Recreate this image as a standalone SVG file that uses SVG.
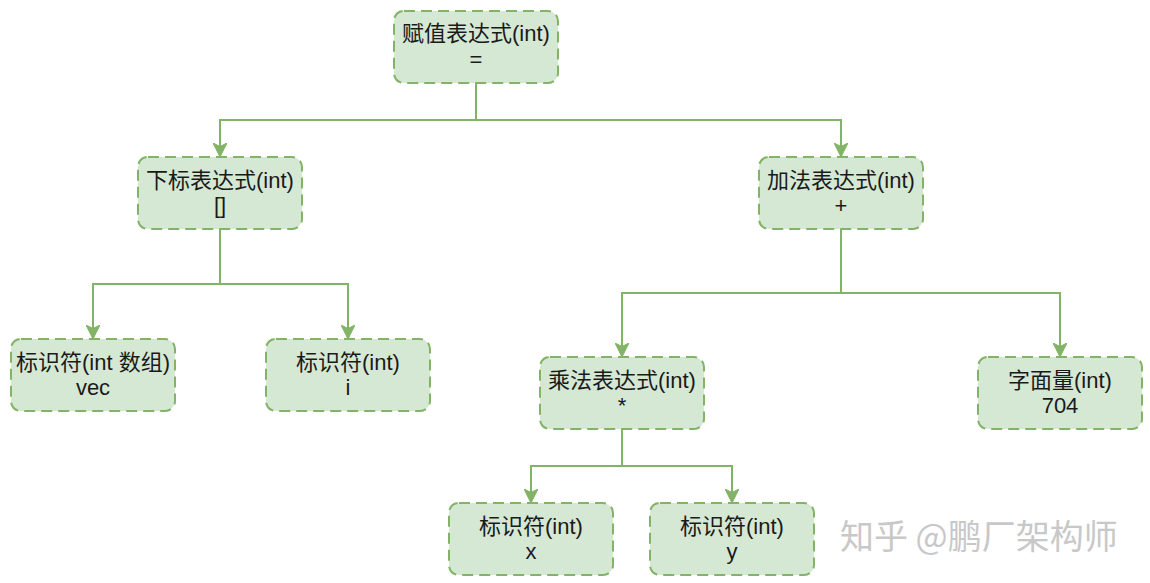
<svg xmlns="http://www.w3.org/2000/svg" width="1150" height="583" viewBox="0 0 1150 583">
<defs>
<style>
.n{fill:#d5e8d4;stroke:#82b366;stroke-width:2;stroke-dasharray:11 6}
.t{font-family:"Liberation Sans","Noto Sans CJK SC",sans-serif;font-size:22px;fill:#1a1a1a;text-anchor:middle}
.c{fill:none;stroke:#82b366;stroke-width:2}
.wm{font-family:"Noto Sans CJK SC",sans-serif;font-size:34px;fill:#c8c8c8}
</style>
<marker id="a" viewBox="0 0 14 14" refX="13" refY="7" markerWidth="14" markerHeight="14" markerUnits="userSpaceOnUse" orient="auto">
<path d="M0,0 L14,7 L0,14 L3.5,7 Z" fill="#82b366" stroke="#82b366"/>
</marker>
</defs>
<rect width="1150" height="583" fill="#ffffff"/>
<g id="connectors">
<path class="c" d="M476,83 V120 H220 V156" marker-end="url(#a)"/>
<path class="c" d="M476,120 H841 V156" marker-end="url(#a)"/>
<path class="c" d="M220,229 V284 H93 V338" marker-end="url(#a)"/>
<path class="c" d="M220,284 H348 V338" marker-end="url(#a)"/>
<path class="c" d="M841,229 V293 H622 V356" marker-end="url(#a)"/>
<path class="c" d="M841,293 H1060 V356" marker-end="url(#a)"/>
<path class="c" d="M622,429 V466 H531 V502" marker-end="url(#a)"/>
<path class="c" d="M622,466 H732 V502" marker-end="url(#a)"/>
</g>
<g id="n1"><rect class="n" x="394" y="11" width="164" height="72" rx="10"/><text class="t" x="476" y="41">赋值表达式(int)</text><text class="t" x="476" y="67">=</text></g>
<g id="n2"><rect class="n" x="138" y="157" width="164" height="72" rx="10"/><text class="t" x="220" y="188">下标表达式(int)</text><text class="t" x="220" y="213">[]</text></g>
<g id="n3"><rect class="n" x="759" y="157" width="164" height="72" rx="10"/><text class="t" x="841" y="188">加法表达式(int)</text><text class="t" x="841" y="213">+</text></g>
<g id="n4"><rect class="n" x="11" y="339" width="164" height="72" rx="10"/><text class="t" x="93" y="370">标识符(int 数组)</text><text class="t" x="93" y="395">vec</text></g>
<g id="n5"><rect class="n" x="266" y="339" width="164" height="72" rx="10"/><text class="t" x="348" y="370">标识符(int)</text><text class="t" x="348" y="395">i</text></g>
<g id="n6"><rect class="n" x="540" y="357" width="164" height="72" rx="10"/><text class="t" x="622" y="388">乘法表达式(int)</text><text class="t" x="622" y="413">*</text></g>
<g id="n7"><rect class="n" x="978" y="357" width="164" height="72" rx="10"/><text class="t" x="1060" y="388">字面量(int)</text><text class="t" x="1060" y="413">704</text></g>
<g id="n8"><rect class="n" x="449" y="503" width="164" height="72" rx="10"/><text class="t" x="531" y="534">标识符(int)</text><text class="t" x="531" y="559">x</text></g>
<g id="n9"><rect class="n" x="650" y="503" width="164" height="72" rx="10"/><text class="t" x="732" y="534">标识符(int)</text><text class="t" x="732" y="559">y</text></g>
<text class="wm" x="840" y="549">知乎 @鹏厂架构师</text>
</svg>
